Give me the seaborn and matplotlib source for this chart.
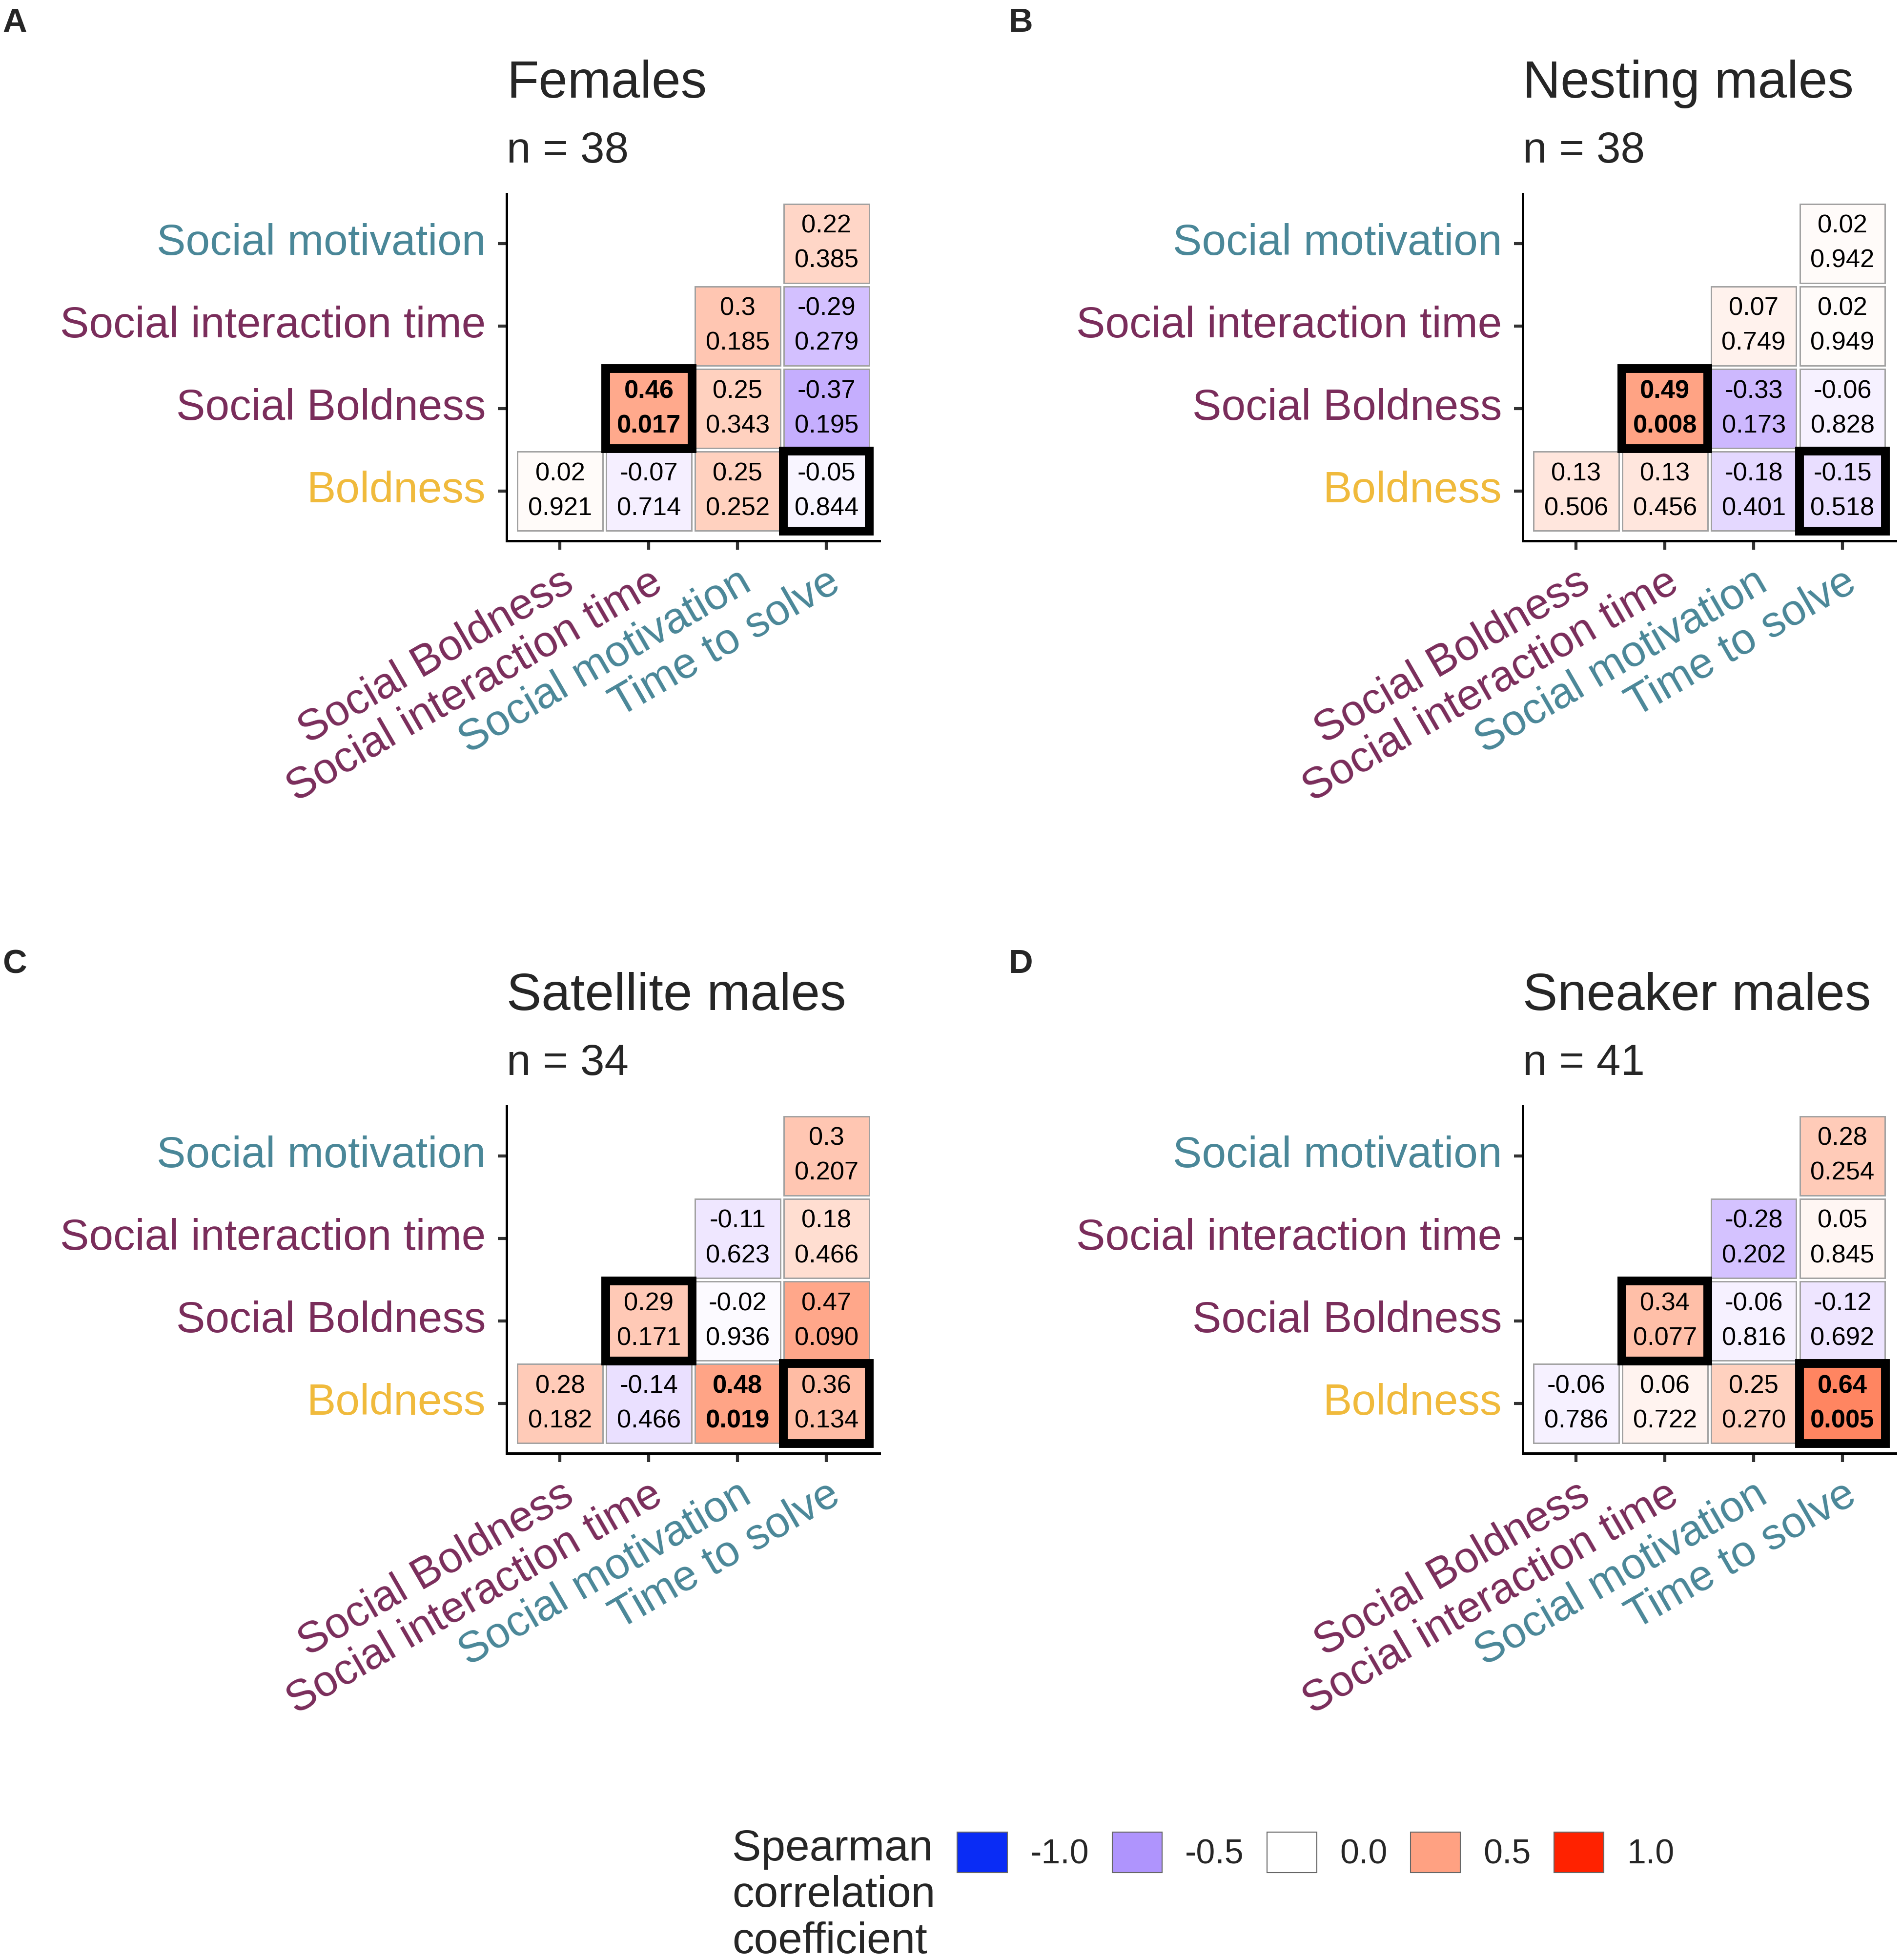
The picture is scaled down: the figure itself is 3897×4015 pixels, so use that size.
import numpy as np
import pandas as pd
import seaborn as sns
import matplotlib.pyplot as plt
from matplotlib.colors import ListedColormap, Normalize, to_rgb
from matplotlib.patches import Rectangle, Patch

# --- dados ---
row_traits = ["Social motivation", "Social interaction time", "Social Boldness", "Boldness"]
col_traits = ["Social Boldness", "Social interaction time", "Social motivation", "Time to solve"]
nan = np.nan

groups = ["Females", "Nesting males", "Satellite males", "Sneaker males"]
group_n = [38, 38, 34, 41]
panel_letters = ["A", "B", "C", "D"]

females_r = [[nan, nan, nan, 0.22],
             [nan, nan, 0.3, -0.29],
             [nan, 0.46, 0.25, -0.37],
             [0.02, -0.07, 0.25, -0.05]]
females_p = [[nan, nan, nan, 0.385],
             [nan, nan, 0.185, 0.279],
             [nan, 0.017, 0.343, 0.195],
             [0.921, 0.714, 0.252, 0.844]]

nesting_r = [[nan, nan, nan, 0.02],
             [nan, nan, 0.07, 0.02],
             [nan, 0.49, -0.33, -0.06],
             [0.13, 0.13, -0.18, -0.15]]
nesting_p = [[nan, nan, nan, 0.942],
             [nan, nan, 0.749, 0.949],
             [nan, 0.008, 0.173, 0.828],
             [0.506, 0.456, 0.401, 0.518]]

satellite_r = [[nan, nan, nan, 0.3],
               [nan, nan, -0.11, 0.18],
               [nan, 0.29, -0.02, 0.47],
               [0.28, -0.14, 0.48, 0.36]]
satellite_p = [[nan, nan, nan, 0.207],
               [nan, nan, 0.623, 0.466],
               [nan, 0.171, 0.936, 0.090],
               [0.182, 0.466, 0.019, 0.134]]

sneaker_r = [[nan, nan, nan, 0.28],
             [nan, nan, -0.28, 0.05],
             [nan, 0.34, -0.06, -0.12],
             [-0.06, 0.06, 0.25, 0.64]]
sneaker_p = [[nan, nan, nan, 0.254],
             [nan, nan, 0.202, 0.845],
             [nan, 0.077, 0.816, 0.692],
             [0.786, 0.722, 0.270, 0.005]]

all_r = [females_r, nesting_r, satellite_r, sneaker_r]
all_p = [females_p, nesting_p, satellite_p, sneaker_p]

# correlacoes previstas (caixa preta)
boxed_pairs = [("Social Boldness", "Social interaction time"), ("Boldness", "Time to solve")]

legend_breaks = [-1.0, -0.5, 0.0, 0.5, 1.0]

trait_colours = {"Social motivation": "#4a8798", "Time to solve": "#4a8798",
                 "Social interaction time": "#7a2d5b", "Social Boldness": "#7a2d5b",
                 "Boldness": "#f0ba3c"}

# --- paleta divergente interpolada em Lab (como gradient2) ---
M = np.array([[0.4124, 0.3576, 0.1805], [0.2126, 0.7152, 0.0722], [0.0193, 0.1192, 0.9505]])
WHITE_REF = np.array([0.95047, 1.0, 1.08883])


def hex_to_lab(h):
    c = np.array(to_rgb(h))
    c = np.where(c <= 0.04045, c / 12.92, ((c + 0.055) / 1.055) ** 2.4)
    xyz = M @ c / WHITE_REF
    f = np.where(xyz > 0.008856, np.cbrt(xyz), 7.787 * xyz + 16 / 116)
    return np.array([116 * f[1] - 16, 500 * (f[0] - f[1]), 200 * (f[1] - f[2])])


def lab_to_rgb(lab):
    fy = (lab[0] + 16) / 116
    f = np.array([fy + lab[1] / 500, fy, fy - lab[2] / 200])
    xyz = np.where(f ** 3 > 0.008856, f ** 3, (f - 16 / 116) / 7.787) * WHITE_REF
    rgb = np.linalg.inv(M) @ xyz
    rgb = np.clip(rgb, 0, None)
    rgb = np.where(rgb <= 0.0031308, 12.92 * rgb, 1.055 * rgb ** (1 / 2.4) - 0.055)
    return np.clip(rgb, 0, 1)


lab_low, lab_mid, lab_high = hex_to_lab("#0a2cf5"), hex_to_lab("#ffffff"), hex_to_lab("#ff2200")
cols = []
for v in np.linspace(-1, 1, 257):
    end = lab_low if v < 0 else lab_high
    cols.append(lab_to_rgb(lab_mid + abs(v) * (end - lab_mid)))
cmap = ListedColormap(cols)
norm = Normalize(-1, 1)

# --- figura ---
sns.set_style("white")
plt.rcParams['font.family'] = ['Liberation Sans', 'DejaVu Sans']

W, H = 1520, 1566  # coordenadas de referencia
fig = plt.figure(figsize=(3897 / 300, 4015 / 300), dpi=300)

panel_pos = [(405, 155), (1217, 155), (405, 884), (1217, 884)]
letter_top = [6, 6, 758, 758]
ax_w, ax_h = 298, 277


def draw_panel(ax, r, p):
    df_r = pd.DataFrame(r, index=row_traits, columns=col_traits)
    df_p = pd.DataFrame(p, index=row_traits, columns=col_traits)
    labels = df_r.copy().astype(object)
    for i in range(4):
        for j in range(4):
            if not np.isnan(df_r.iat[i, j]):
                labels.iat[i, j] = f"{df_r.iat[i, j]:g}\n{df_p.iat[i, j]:.3f}"
            else:
                labels.iat[i, j] = ""
    sns.heatmap(df_r, mask=df_r.isna(), cmap=cmap, vmin=-1, vmax=1, cbar=False,
                annot=labels, fmt='', linewidths=1.7, linecolor='white', ax=ax,
                annot_kws={'fontsize': 12.6, 'color': 'black', 'linespacing': 1.58})
    for t in ax.texts:
        x, y = t.get_position()
        if df_p.iat[int(y), int(x)] < 0.05:
            t.set_fontweight('bold')
    for i in range(4):
        for j in range(4):
            if not np.isnan(df_r.iat[i, j]):
                ax.add_patch(Rectangle((j + 0.02, i + 0.022), 0.96, 0.956, fill=False,
                                       edgecolor='#a0a0a0', linewidth=0.7))
    for rn, cn in boxed_pairs:
        i, j = row_traits.index(rn), col_traits.index(cn)
        ax.add_patch(Rectangle((j + 0.015, i + 0.015), 0.97, 0.97, fill=False,
                               edgecolor='black', linewidth=4.3, zorder=5, joinstyle='miter'))

    ax.set_xlim(-0.1, 4.1)
    ax.set_ylim(4.1, -0.1)
    ax.set_xlabel('')
    ax.set_ylabel('')
    for s in ['left', 'bottom']:
        ax.spines[s].set_visible(True)
        ax.spines[s].set_linewidth(1.2)
        ax.spines[s].set_color('black')
    ax.tick_params(axis='both', left=True, bottom=True, length=4.3, width=1.5,
                   color='#333333', labelsize=21.4, pad=6)
    ax.set_yticklabels(row_traits, rotation=0)
    ax.set_xticklabels(col_traits, rotation=30, ha='right', va='top', rotation_mode='anchor')
    for lab in ax.get_xticklabels() + ax.get_yticklabels():
        lab.set_color(trait_colours[lab.get_text()])


for k in range(4):
    x0, y0 = panel_pos[k]
    ax = fig.add_axes([x0 / W, 1 - (y0 + ax_h) / H, ax_w / W, ax_h / H])
    draw_panel(ax, all_r[k], all_p[k])
    fig.text(x0 / W, 1 - (y0 - 77) / H, groups[k], fontsize=25.7, ha='left', va='baseline')
    fig.text(x0 / W, 1 - (y0 - 25) / H, f"n = {group_n[k]}", fontsize=21.4, ha='left', va='baseline')
    lx = 2 if k % 2 == 0 else 806
    fig.text(lx / W, 1 - letter_top[k] / H, panel_letters[k], fontsize=16.5, fontweight='bold',
             ha='left', va='top')

# --- legenda ---
handles = [Patch(facecolor=cmap(norm(v)), edgecolor='#666666', linewidth=0.5) for v in legend_breaks]
fig.legend(handles, [f"{v:.1f}" for v in legend_breaks], loc='center left',
           bbox_to_anchor=(765 / W, 1 - 1480 / H), ncol=5, frameon=False, fontsize=16.8,
           handlelength=1.46, handleheight=1.46, handletextpad=0.67, columnspacing=0.68,
           borderpad=0, borderaxespad=0)
fig.text(585 / W, 1 - 1461 / H, "Spearman\ncorrelation\ncoefficient", fontsize=21.4,
         ha='left', va='top', linespacing=1.17)

plt.savefig('out.png', dpi=300)
plt.close()
